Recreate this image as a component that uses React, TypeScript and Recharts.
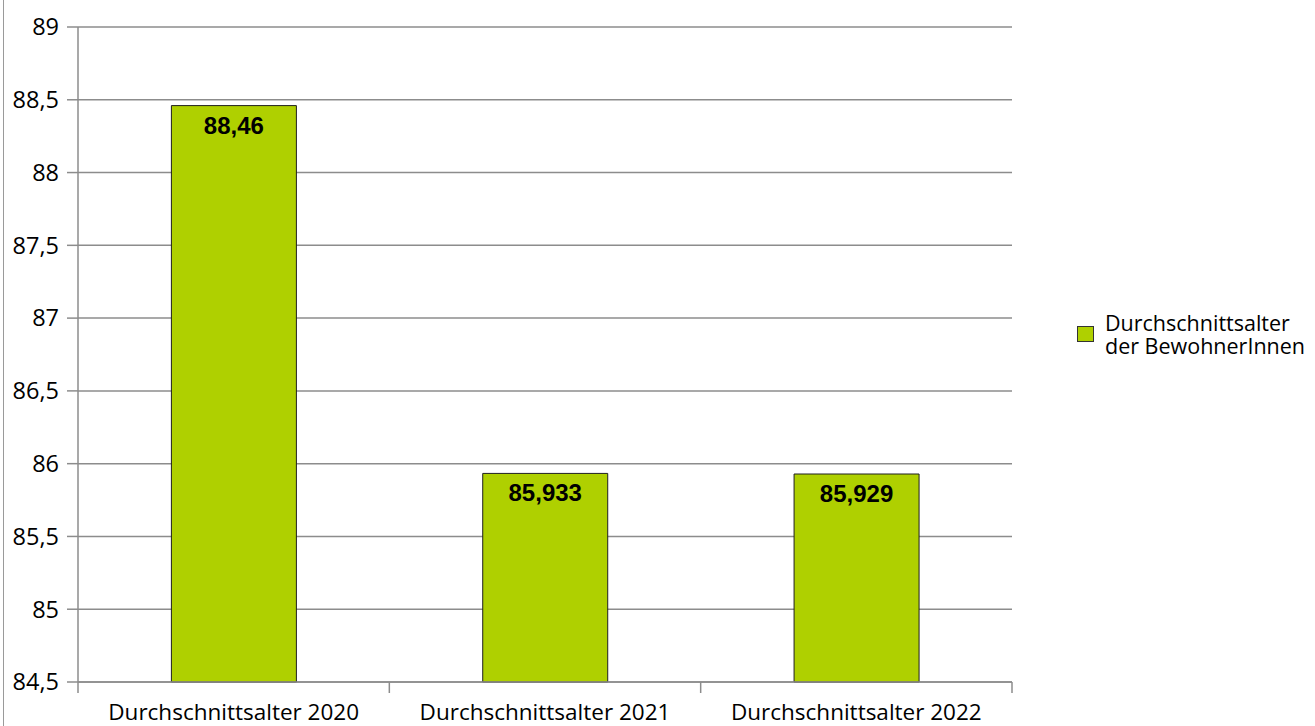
import React from "react";
import { BarChart, Bar, XAxis, YAxis, CartesianGrid, LabelList, Legend } from "recharts";

const categories = ["Durchschnittsalter 2020", "Durchschnittsalter 2021", "Durchschnittsalter 2022"];
const values = [88.46, 85.933, 85.929];
const valueLabels = ["88,46", "85,933", "85,929"];
const yTicks = [84.5, 85, 85.5, 86, 86.5, 87, 87.5, 88, 88.5, 89];
const seriesName = "Durchschnittsalter der BewohnerInnen";

const data = categories.map((c, i) => ({ name: c, value: values[i], label: valueLabels[i] }));

const W = 1315;
const H = 726;
const XH = 44;
const M = { top: 27, right: 303, bottom: 0, left: 0 };
const YW = 78;
const plotW = W - M.left - M.right - YW;
const band = plotW / categories.length;
const GRAY = "#8c8c8c";

const fmt = (v: number) => String(v).replace(".", ",");

const XTick = (props: any) => {
  const { x, payload, index } = props;
  const ay = H - XH;
  return (
    <g>
      {index === 0 && <line x1={x - band / 2} x2={x - band / 2} y1={ay} y2={ay + 11} stroke={GRAY} strokeWidth={1.5} />}
      <line x1={x + band / 2} x2={x + band / 2} y1={ay} y2={ay + 11} stroke={GRAY} strokeWidth={1.5} />
      <text x={x} y={ay + 38} textAnchor="middle" fill="#000" fontFamily="Open Sans" fontSize={22.5}>
        {payload.value}
      </text>
    </g>
  );
};

const LegendContent = () => (
  <div style={{ display: "flex", alignItems: "center", fontFamily: "Open Sans", fontSize: 21.5, lineHeight: "23px", color: "#000" }}>
    <div style={{ width: 15, height: 14, background: "#afd000", border: "1px solid #333", marginRight: 11 }} />
    <div style={{ whiteSpace: "nowrap" }}>Durchschnittsalter<br />der BewohnerInnen</div>
  </div>
);

export default function App() {
  return (
    <div style={{ position: "absolute", left: 0, top: 0, width: W, height: H, background: "#fff", overflow: "hidden" }}>
      <div style={{ position: "absolute", left: 3, top: 0, width: 1, height: H, background: "#9a9a9a" }} />
      <BarChart width={W} height={H} data={data} margin={M} barCategoryGap="30%">
        <CartesianGrid vertical={false} stroke={GRAY} strokeWidth={1.5} />
        <XAxis
          dataKey="name"
          axisLine={{ stroke: GRAY, strokeWidth: 1.5 }}
          tickLine={false}
          tick={<XTick />}
          interval={0}
          height={XH}
        />
        <YAxis
          domain={[84.5, 89]}
          ticks={yTicks}
          width={YW}
          tickFormatter={fmt}
          axisLine={{ stroke: GRAY, strokeWidth: 1.5 }}
          tickLine={{ stroke: GRAY, strokeWidth: 1.5 }}
          tickSize={11}
          tickMargin={8}
          tick={{ fill: "#000", fontFamily: "Open Sans", fontSize: 23.5 }}
          interval={0}
        />
        <Legend
          layout="horizontal"
          verticalAlign="middle"
          align="center"
          content={<LegendContent />}
          wrapperStyle={{ position: "absolute", left: 1077, top: 311, width: 238 }}
        />
        <Bar dataKey="value" name={seriesName} fill="#afd000" stroke="#1f1f1f" strokeWidth={1} isAnimationActive={false}>
          <LabelList dataKey="label" position="insideTop" offset={11} fill="#000" fontFamily="Liberation Sans" fontWeight="bold" fontSize={24} />
        </Bar>
      </BarChart>
    </div>
  );
}
